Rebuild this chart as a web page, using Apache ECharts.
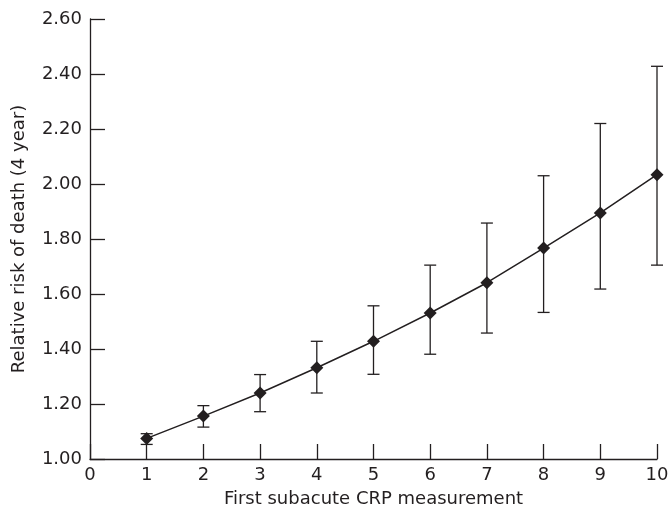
<!DOCTYPE html>
<html lang="en">

<head>
    <meta charset="UTF-8">
    <title>Relative risk of death</title>
    <script src="https://cdn.jsdelivr.net/npm/echarts@6/dist/echarts.min.js"></script>
    <style>
        body {
            margin: 0;
        }

        #chart {
            width: 671px;
            height: 513px;
        }
    </style>
</head>

<body>
    <div id="chart"></div>
    <script>
        // CRP measurement (x), relative risk and its interval
        var crp = [1, 2, 3, 4, 5, 6, 7, 8, 9, 10];
        var risk = [1.075, 1.156, 1.240, 1.332, 1.428, 1.531, 1.641, 1.767, 1.895, 2.034];
        var lower = [1.053, 1.116, 1.172, 1.240, 1.308, 1.381, 1.458, 1.533, 1.618, 1.705];
        var upper = [1.092, 1.194, 1.307, 1.428, 1.557, 1.705, 1.858, 2.030, 2.220, 2.428];

        var lineData = crp.map(function (x, i) { return [x, risk[i]]; });
        var barData = crp.map(function (x, i) { return [x, lower[i], upper[i]]; });

        var ink = '#231f20';
        var font = 'DejaVu Sans';

        function errorBar(params, api) {
            var x = api.value(0);
            var lo = api.coord([x, api.value(1)]);
            var hi = api.coord([x, api.value(2)]);
            var half = 6;
            var style = { stroke: ink, lineWidth: 1.3 };
            return {
                type: 'group',
                children: [
                    { type: 'line', shape: { x1: hi[0], y1: hi[1], x2: lo[0], y2: lo[1] }, style: style },
                    { type: 'line', shape: { x1: hi[0] - half, y1: hi[1], x2: hi[0] + half, y2: hi[1] }, style: style },
                    { type: 'line', shape: { x1: lo[0] - half, y1: lo[1], x2: lo[0] + half, y2: lo[1] }, style: style }
                ]
            };
        }

        var myChart = echarts.init(document.getElementById('chart'));
        myChart.setOption({
            animation: false,
            backgroundColor: '#fff',
            grid: {
                left: 90,
                right: 14,
                top: 19,
                bottom: 54,
                outerBoundsMode: 'none'
            },
            xAxis: {
                type: 'value',
                min: 0,
                max: 10,
                interval: 1,
                name: 'First subacute CRP measurement',
                nameLocation: 'middle',
                nameGap: 31,
                nameTextStyle: { color: ink, fontSize: 18, fontFamily: font },
                axisLine: { lineStyle: { color: ink, width: 1.3 } },
                axisTick: { inside: true, length: 15, lineStyle: { color: ink, width: 1.3 } },
                axisLabel: { color: ink, fontSize: 18, fontFamily: font, margin: 7 },
                splitLine: { show: false }
            },
            yAxis: {
                type: 'value',
                min: 1,
                max: 2.6,
                interval: 0.2,
                name: 'Relative risk of death (4 year)',
                nameLocation: 'middle',
                nameGap: 62,
                nameTextStyle: { color: ink, fontSize: 18, fontFamily: font },
                axisLine: { show: true, lineStyle: { color: ink, width: 1.3 } },
                axisTick: { show: true, inside: true, length: 15, lineStyle: { color: ink, width: 1.3 } },
                axisLabel: {
                    color: ink, fontSize: 18, fontFamily: font, margin: 8,
                    formatter: function (v) { return v.toFixed(2); }
                },
                splitLine: { show: false }
            },
            series: [
                {
                    type: 'custom',
                    renderItem: errorBar,
                    data: barData,
                    z: 1
                },
                {
                    type: 'line',
                    data: lineData,
                    symbol: 'diamond',
                    symbolSize: 13,
                    itemStyle: { color: ink },
                    lineStyle: { color: ink, width: 1.5 },
                    z: 2
                }
            ]
        });
    </script>
</body>

</html>
